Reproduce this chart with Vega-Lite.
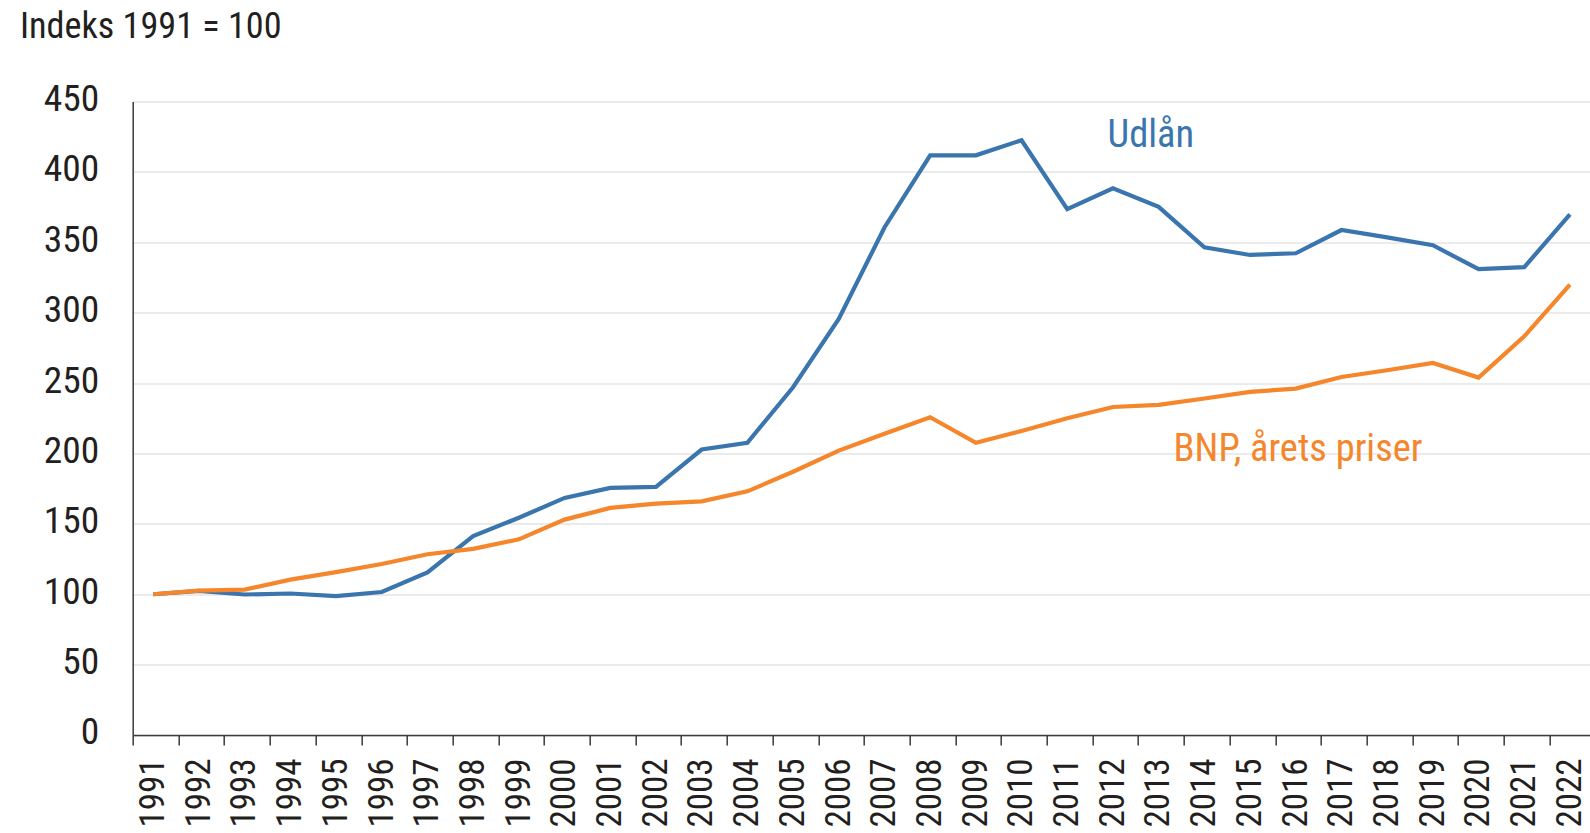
{
  "$schema": "https://vega.github.io/schema/vega-lite/v6.json",
  "width": 1457,
  "height": 633.5,
  "autosize": {"type": "none"},
  "padding": {"left": 132.7, "top": 101.5, "right": 0, "bottom": 98},
  "background": "white",
  "config": {
    "font": "Roboto Condensed, DejaVu Sans Condensed, sans-serif",
    "view": {"stroke": null}
  },
  "title": {
    "text": "Indeks 1991 = 100",
    "anchor": "start",
    "frame": "group",
    "fontSize": 36.2,
    "fontWeight": "normal",
    "color": "#231f20",
    "dx": -112.7,
    "offset": 35.5
  },
  "datasets": {
    "series": [
      {"year": "1991", "serie": "Udlån", "value": 100},
      {"year": "1992", "serie": "Udlån", "value": 102.4},
      {"year": "1993", "serie": "Udlån", "value": 99.8},
      {"year": "1994", "serie": "Udlån", "value": 100.5},
      {"year": "1995", "serie": "Udlån", "value": 98.6},
      {"year": "1996", "serie": "Udlån", "value": 101.6},
      {"year": "1997", "serie": "Udlån", "value": 115.5},
      {"year": "1998", "serie": "Udlån", "value": 141.3},
      {"year": "1999", "serie": "Udlån", "value": 154.3},
      {"year": "2000", "serie": "Udlån", "value": 168.4},
      {"year": "2001", "serie": "Udlån", "value": 175.5},
      {"year": "2002", "serie": "Udlån", "value": 176.2},
      {"year": "2003", "serie": "Udlån", "value": 202.8},
      {"year": "2004", "serie": "Udlån", "value": 207.6},
      {"year": "2005", "serie": "Udlån", "value": 247},
      {"year": "2006", "serie": "Udlån", "value": 295.5},
      {"year": "2007", "serie": "Udlån", "value": 360.5},
      {"year": "2008", "serie": "Udlån", "value": 411.8},
      {"year": "2009", "serie": "Udlån", "value": 411.8},
      {"year": "2010", "serie": "Udlån", "value": 422.5},
      {"year": "2011", "serie": "Udlån", "value": 373.5},
      {"year": "2012", "serie": "Udlån", "value": 388.3},
      {"year": "2013", "serie": "Udlån", "value": 375.2},
      {"year": "2014", "serie": "Udlån", "value": 346.5},
      {"year": "2015", "serie": "Udlån", "value": 341},
      {"year": "2016", "serie": "Udlån", "value": 342.2},
      {"year": "2017", "serie": "Udlån", "value": 358.7},
      {"year": "2018", "serie": "Udlån", "value": 353.5},
      {"year": "2019", "serie": "Udlån", "value": 347.9},
      {"year": "2020", "serie": "Udlån", "value": 330.9},
      {"year": "2021", "serie": "Udlån", "value": 332.3},
      {"year": "2022", "serie": "Udlån", "value": 369.9},
      {"year": "1991", "serie": "BNP", "value": 100},
      {"year": "1992", "serie": "BNP", "value": 102.6},
      {"year": "1993", "serie": "BNP", "value": 103.3},
      {"year": "1994", "serie": "BNP", "value": 110.4},
      {"year": "1995", "serie": "BNP", "value": 115.7},
      {"year": "1996", "serie": "BNP", "value": 121.5},
      {"year": "1997", "serie": "BNP", "value": 128.4},
      {"year": "1998", "serie": "BNP", "value": 132.2},
      {"year": "1999", "serie": "BNP", "value": 139},
      {"year": "2000", "serie": "BNP", "value": 153},
      {"year": "2001", "serie": "BNP", "value": 161.3},
      {"year": "2002", "serie": "BNP", "value": 164.4},
      {"year": "2003", "serie": "BNP", "value": 166},
      {"year": "2004", "serie": "BNP", "value": 173.1},
      {"year": "2005", "serie": "BNP", "value": 187},
      {"year": "2006", "serie": "BNP", "value": 202},
      {"year": "2007", "serie": "BNP", "value": 214},
      {"year": "2008", "serie": "BNP", "value": 225.7},
      {"year": "2009", "serie": "BNP", "value": 207.6},
      {"year": "2010", "serie": "BNP", "value": 216},
      {"year": "2011", "serie": "BNP", "value": 225},
      {"year": "2012", "serie": "BNP", "value": 233},
      {"year": "2013", "serie": "BNP", "value": 234.5},
      {"year": "2014", "serie": "BNP", "value": 239},
      {"year": "2015", "serie": "BNP", "value": 243.7},
      {"year": "2016", "serie": "BNP", "value": 246.1},
      {"year": "2017", "serie": "BNP", "value": 254.3},
      {"year": "2018", "serie": "BNP", "value": 259.1},
      {"year": "2019", "serie": "BNP", "value": 264.3},
      {"year": "2020", "serie": "BNP", "value": 253.9},
      {"year": "2021", "serie": "BNP", "value": 283.2},
      {"year": "2022", "serie": "BNP", "value": 319.9}
    ],
    "udlaan": [{"year": "2013", "value": 418, "label": "Udlån"}],
    "bnp": [{"year": "2016", "value": 194.3, "label": "BNP, årets priser"}]
  },
  "layer": [
    {
      "data": {"name": "series"},
      "mark": {"type": "line", "strokeWidth": 4.2, "strokeJoin": "miter"},
      "encoding": {
        "x": {
          "field": "year",
          "type": "ordinal",
          "bandPosition": 0.45,
          "scale": {"type": "band", "range": [0, 1462.4], "paddingInner": 0, "paddingOuter": 0},
          "axis": {
            "title": null,
            "labelAngle": -90,
            "labelAlign": "right",
            "labelBaseline": "middle",
            "labelFontSize": 35,
            "labelColor": "#231f20",
            "labelPadding": 13,
            "labelOffset": -3,
            "tickBand": "extent",
            "tickSize": 10,
            "tickColor": "#3a3a3a",
            "tickWidth": 1.5,
            "domainColor": "#3a3a3a",
            "domainWidth": 1.5,
            "grid": false
          }
        },
        "y": {
          "field": "value",
          "type": "quantitative",
          "scale": {"domain": [0, 450], "nice": false},
          "axis": {
            "title": null,
            "values": [0, 50, 100, 150, 200, 250, 300, 350, 400, 450],
            "labelFontSize": 37.5,
            "labelColor": "#231f20",
            "labelPadding": 34,
            "labelOffset": -2,
            "ticks": false,
            "grid": true,
            "gridColor": "#e4e4e4",
            "gridWidth": 1.5,
            "domainColor": "#3a3a3a",
            "domainWidth": 1.5
          }
        },
        "color": {
          "field": "serie",
          "type": "nominal",
          "scale": {"domain": ["Udlån", "BNP"], "range": ["#3a75ae", "#f5862b"]},
          "legend": null
        }
      }
    },
    {
      "data": {"name": "udlaan"},
      "mark": {"type": "text", "fontSize": 38.5, "align": "center", "baseline": "alphabetic", "color": "#3a75ae"},
      "encoding": {
        "x": {"field": "year", "type": "ordinal", "bandPosition": 0.28},
        "y": {"field": "value", "type": "quantitative"},
        "text": {"field": "label"}
      }
    },
    {
      "data": {"name": "bnp"},
      "mark": {"type": "text", "fontSize": 38.5, "align": "center", "baseline": "alphabetic", "color": "#f5862b"},
      "encoding": {
        "x": {"field": "year", "type": "ordinal", "bandPosition": 0.5},
        "y": {"field": "value", "type": "quantitative"},
        "text": {"field": "label"}
      }
    }
  ]
}
